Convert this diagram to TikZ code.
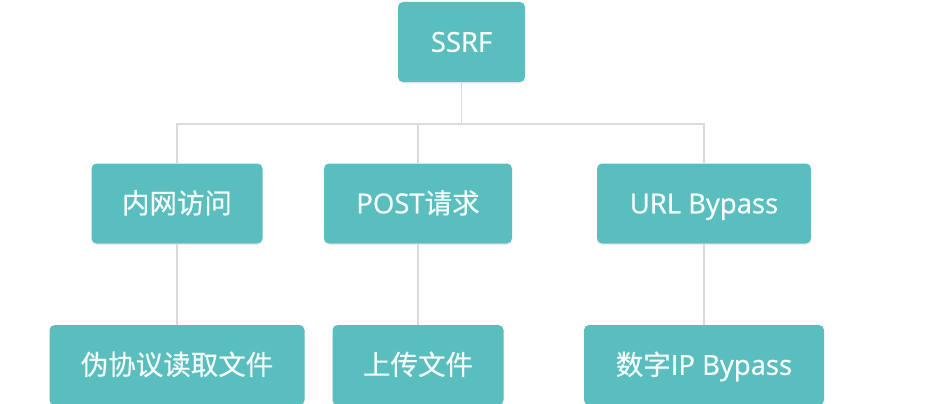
\documentclass[tikz,border=0pt]{standalone}
\usepackage{fontspec}
\setmainfont{Noto Sans CJK SC}[FakeBold=0.4]
\newfontfamily\lat{Open Sans}[FakeBold=0.7]
\usetikzlibrary{shadows}
\definecolor{tealbox}{RGB}{91,190,190}
\definecolor{linegray}{RGB}{218,218,218}
\definecolor{boxtext}{RGB}{245,252,252}
\begin{document}
\begin{tikzpicture}[x=1pt,y=-1pt,
  box/.style={fill=tealbox, rounded corners=5pt, text=boxtext,
    font=\fontsize{27.5}{32}\selectfont, inner sep=0pt, minimum height=80pt,
    text height=19.6pt, text depth=0pt,
    drop shadow={opacity=0.12, shadow xshift=0pt, shadow yshift=-1.5pt}},
  conn/.style={draw=linegray, line width=1.3pt}]
\useasboundingbox (0,0) rectangle (950,404);
\fill[white] (0,0) rectangle (950,404);
\coordinate (j) at (461.5,124);
\node[box, minimum width=127pt] (ssrf) at (461.5,42) {\lat SSRF};
\node[box, minimum width=171pt] (a) at (177,203.5) {内网访问};
\node[box, minimum width=188pt] (b) at (418,203.5) {{\lat POST}请求};
\node[box, minimum width=214pt] (c) at (704,203.5) {\lat URL Bypass};
\node[box, minimum width=255pt] (a1) at (177,365) {伪协议读取文件};
\node[box, minimum width=171pt] (b1) at (418,365) {上传文件};
\node[box, minimum width=240pt] (c1) at (704,365) {数字{\lat IP Bypass}};
\draw[conn] (ssrf.south) -- (j);
\draw[conn] (j) -| (a.north);
\draw[conn] (j) -| (c.north);
\draw[conn] (j -| b.north) -- (b.north);
\draw[conn] (a.south) -- (a1.north);
\draw[conn] (b.south) -- (b1.north);
\draw[conn] (c.south) -- (c1.north);
\end{tikzpicture}
\end{document}
